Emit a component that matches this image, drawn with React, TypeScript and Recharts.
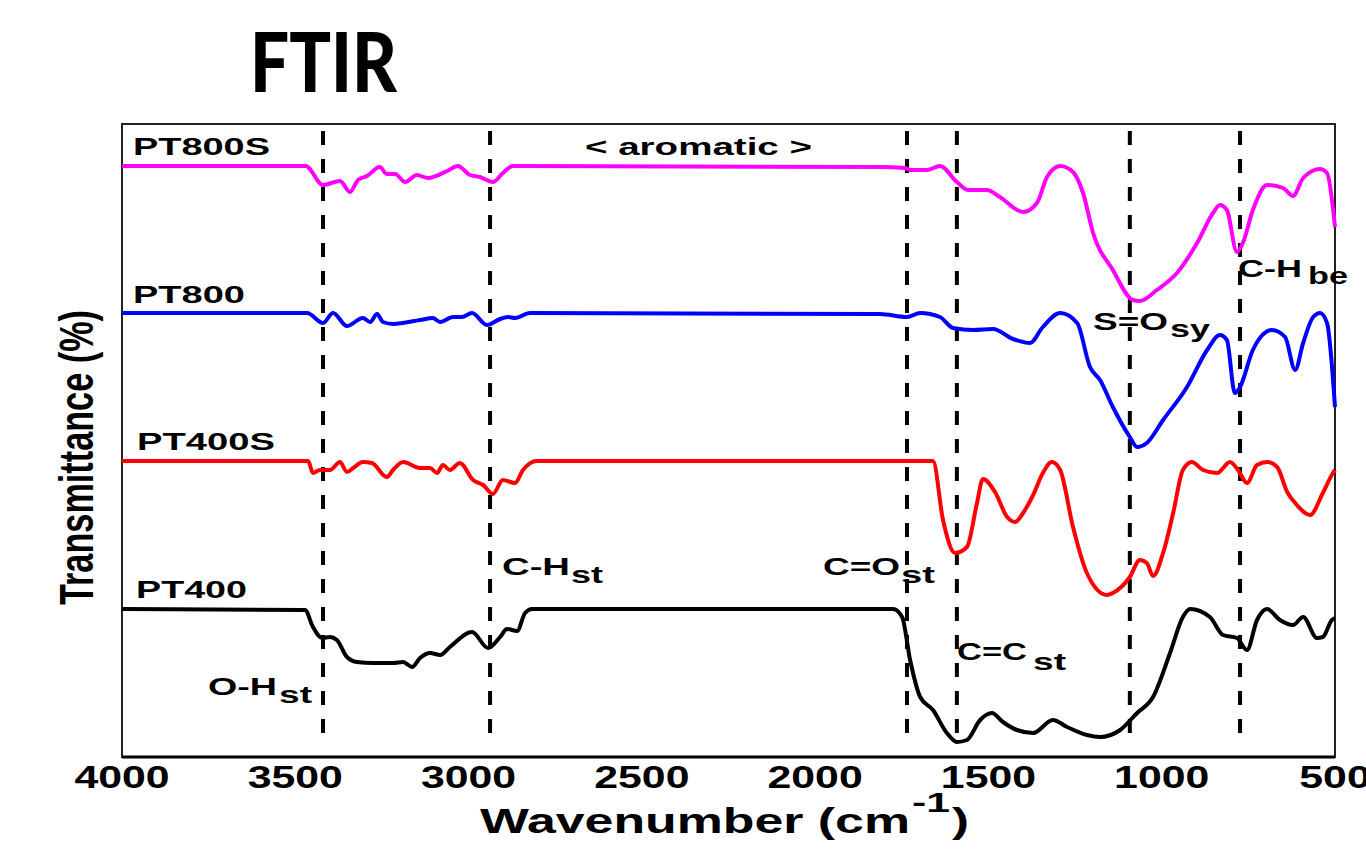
import React from "react"
import { LineChart, Line, XAxis, YAxis, ReferenceLine, ReferenceArea } from "recharts"

// [wavenumber (cm-1), transmittance (offset, a.u.)]
const pt800s: [number, number][] = [
  [4000, 591], [3470, 591], [3420, 572], [3371, 576], [3342, 565], [3319, 577], [3293, 581],
  [3256, 590], [3236, 583], [3212, 583], [3183, 575], [3149, 582], [3117, 579], [3062, 586],
  [3031, 591], [2996, 582], [2967, 580], [2930, 575], [2901, 584], [2872, 591], [1813, 590],
  [1741, 589], [1726, 587], [1677, 587], [1640, 591], [1591, 575], [1559, 567], [1504, 567],
  [1467, 560], [1400, 545], [1360, 554], [1331, 580], [1293, 591], [1256, 585], [1227, 564],
  [1198, 524], [1141, 487], [1083, 457], [1063, 456], [1014, 467], [956, 484], [898, 514],
  [852, 544], [832, 552], [812, 547], [783, 505], [766, 514], [737, 547], [696, 572],
  [650, 569], [621, 561], [592, 579], [543, 588], [523, 584], [500, 530],
]

const pt800: [number, number][] = [
  [4000, 444], [3466, 444], [3420, 434], [3391, 444], [3351, 431], [3305, 439], [3284, 435],
  [3264, 443], [3247, 435], [3218, 433], [3140, 437], [3103, 439], [3082, 435], [3045, 440],
  [3019, 440], [2990, 444], [2947, 432], [2909, 438], [2886, 440], [2866, 439], [2823, 444],
  [1813, 443], [1735, 440], [1697, 444], [1640, 440], [1602, 429], [1545, 427], [1487, 428],
  [1429, 418], [1380, 414], [1343, 430], [1293, 444], [1244, 434], [1207, 390], [1178, 377],
  [1141, 350], [1092, 320], [1071, 310], [1043, 314], [996, 337], [927, 370], [869, 407],
  [832, 422], [812, 417], [789, 364], [774, 370], [737, 407], [682, 427], [644, 420],
  [615, 387], [592, 414], [563, 440], [543, 444], [523, 434], [500, 350],
]

const pt400s: [number, number][] = [
  [4000, 296], [3463, 296], [3449, 284], [3429, 287], [3400, 287], [3371, 295], [3351, 285],
  [3333, 289], [3305, 295], [3279, 294], [3236, 280], [3218, 287], [3189, 295], [3140, 289],
  [3111, 289], [3091, 284], [3074, 292], [3054, 287], [3025, 294], [2987, 277], [2958, 272],
  [2930, 263], [2901, 277], [2866, 274], [2843, 287], [2803, 296], [1660, 296], [1631, 237],
  [1596, 204], [1562, 210], [1533, 254], [1516, 278], [1481, 265], [1446, 240], [1423, 235],
  [1400, 244], [1371, 262], [1343, 284], [1317, 295], [1293, 287], [1256, 230], [1216, 184],
  [1158, 162], [1141, 164], [1092, 180], [1063, 197], [1043, 194], [1025, 181], [996, 204],
  [967, 244], [939, 287], [913, 295], [881, 287], [840, 284], [803, 295], [780, 287],
  [754, 274], [725, 292], [696, 295], [667, 290], [638, 265], [610, 252], [572, 242],
  [535, 264], [506, 284], [500, 287],
]

const pt400: [number, number][] = [
  [4000, 148], [3472, 147], [3449, 130], [3423, 119], [3400, 120], [3380, 117], [3351, 100],
  [3322, 95], [3276, 94], [3218, 94], [3189, 95], [3163, 90], [3140, 99], [3111, 104],
  [3082, 102], [3054, 110], [2990, 125], [2944, 109], [2909, 120], [2889, 128], [2860, 126],
  [2837, 144], [2817, 148], [1775, 148], [1749, 140], [1726, 97], [1697, 60], [1660, 47],
  [1620, 24], [1591, 15], [1562, 17], [1524, 37], [1490, 44], [1458, 35], [1418, 27],
  [1371, 24], [1314, 37], [1273, 30], [1216, 22], [1178, 20], [1120, 27], [1071, 44],
  [1025, 60], [976, 104], [939, 140], [918, 148], [861, 140], [823, 122], [783, 119],
  [754, 107], [725, 137], [696, 148], [659, 137], [621, 132], [592, 140], [552, 119],
  [535, 120], [509, 137], [500, 139],
]

const peakLines = [3420, 2938, 1735, 1591, 1092, 774]
const xTicks = [4000, 3500, 3000, 2500, 2000, 1500, 1000, 500]

const series = [
  { name: "PT800S", data: pt800s, color: "#ff00ff" },
  { name: "PT800", data: pt800, color: "#0000ff" },
  { name: "PT400S", data: pt400s, color: "#ff0000" },
  { name: "PT400", data: pt400, color: "#000000" },
]

const toRows = (d: [number, number][]) => d.map(([w, t]) => ({ w, t }))

const FONT = "'Liberation Sans', Arial, sans-serif"

function T({
  x,
  y,
  len,
  size = 24,
  children,
  family = FONT,
  weight = "bold",
}: {
  x: number
  y: number
  len: number
  size?: number
  children: React.ReactNode
  family?: string
  weight?: string | number
}) {
  return (
    <text
      x={x}
      y={y}
      fontFamily={family}
      fontWeight={weight}
      fontSize={size}
      textLength={len}
      lengthAdjust="spacingAndGlyphs"
      fill="#000"
    >
      {children}
    </text>
  )
}

function Tick({ x, y, payload }: { x?: number; y?: number; payload?: { value: number } }) {
  const s = String(payload?.value ?? "")
  return (
    <text
      x={x}
      y={(y ?? 0) + 23}
      textAnchor="middle"
      fontFamily={FONT}
      fontWeight="bold"
      fontSize={31}
      textLength={s.length * 23.8}
      lengthAdjust="spacingAndGlyphs"
      fill="#000"
    >
      {s}
    </text>
  )
}

export default function App() {
  return (
    <div style={{ position: "absolute", left: 0, top: 0, width: 1366, height: 855, background: "#fff" }}>
      <LineChart width={1366} height={855} margin={{ top: 124, right: 31, bottom: 38, left: 122 }}>
        <XAxis
          type="number"
          dataKey="w"
          domain={[500, 4000]}
          reversed
          ticks={xTicks}
          interval={0}
          height={60}
          tickLine={false}
          axisLine={{ stroke: "#000", strokeWidth: 3 }}
          tick={<Tick />}
        />
        <YAxis
          type="number"
          domain={[0, 633]}
          width={0}
          tick={false}
          tickLine={false}
          axisLine={{ stroke: "#000", strokeWidth: 3 }}
        />
        <ReferenceArea x1={4000} x2={500} y1={0} y2={633} fill="none" stroke="#222" strokeWidth={2} />
        {peakLines.map((w) => (
          <ReferenceLine
            key={w}
            segment={[{ x: w, y: 24 }, { x: w, y: 629 }]}
            stroke="#000"
            strokeWidth={4}
            strokeDasharray="14 14"
          />
        ))}
        {series.map((s) => (
          <Line
            key={s.name}
            data={toRows(s.data)}
            dataKey="t"
            name={s.name}
            type="monotoneX"
            stroke={s.color}
            strokeWidth={4}
            dot={false}
            activeDot={false}
            isAnimationActive={false}
          />
        ))}
      </LineChart>
      <svg
        width={1366}
        height={855}
        style={{ position: "absolute", left: 0, top: 0, pointerEvents: "none" }}
      >
        <T x={250} y={92} len={147} size={82} weight={900} family="Lato, 'Noto Sans', sans-serif">FTIR</T>

        <T x={133} y={155} len={137}>PT800S</T>
        <T x={133} y={303} len={112}>PT800</T>
        <T x={137} y={450} len={138}>PT400S</T>
        <T x={136} y={598} len={111}>PT400</T>
        <T x={585} y={155} len={227}>{"< aromatic >"}</T>

        <T x={208} y={695} len={69}>O-H</T>
        <T x={279} y={703} len={33}>st</T>
        <T x={502} y={575} len={68}>C-H</T>
        <T x={571} y={583} len={32}>st</T>
        <T x={823} y={575} len={77}>C=O</T>
        <T x={901} y={583} len={34}>st</T>
        <T x={957} y={660} len={70}>C=C</T>
        <T x={1033} y={670} len={33}>st</T>
        <T x={1093} y={330} len={75}>S=O</T>
        <T x={1170} y={337} len={40}>sy</T>
        <T x={1238} y={277} len={64}>C-H</T>
        <T x={1308} y={284} len={40}>be</T>

        <T x={480} y={833} len={430} size={35}>Wavenumber (cm</T>
        <T x={912} y={812} len={38} size={27}>-1</T>
        <T x={952} y={833} len={17} size={35}>)</T>

        <g transform="translate(93,605) rotate(-90)">
          <T x={0} y={0} len={295} size={48}>Transmittance (%)</T>
        </g>
      </svg>
    </div>
  )
}
